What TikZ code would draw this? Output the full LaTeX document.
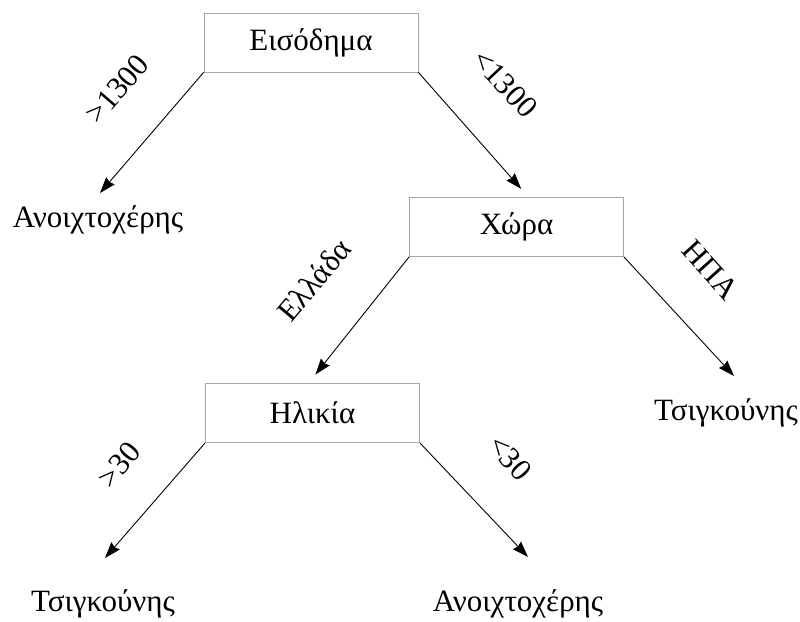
\documentclass[tikz,border=0pt]{standalone}
\usepackage{fontspec}
\setmainfont{Liberation Serif}
\usetikzlibrary{arrows.meta}
\tikzset{
  attr/.style={draw=black!35,line width=0.7pt,minimum width=214pt,minimum height=59pt,inner sep=0pt,font=\fontsize{31}{36}\selectfont},
  leaf/.style={inner sep=0pt,anchor=base,font=\fontsize{31}{36}\selectfont},
  cond/.style={inner sep=0pt,font=\fontsize{31}{36}\selectfont},
  branch/.style={->,line width=0.9pt}
}
\begin{document}
\begin{tikzpicture}[x=1pt,y=-1pt,>={Stealth[length=16pt,width=11pt,inset=1.5pt]}]
 \useasboundingbox (0,0) rectangle (800,621);
 % attribute boxes
 \node[attr] (inc) at (311,42.5) {Εισόδημα};
 \node[attr] (cty) at (516.5,227) {Χώρα};
 \node[attr] (age) at (312.5,413) {Ηλικία};
 % leaves
 \node[leaf] (l1) at (98,227) {Ανοιχτοχέρης};
 \node[leaf] (l2) at (726,420) {Τσιγκούνης};
 \node[leaf] (l3) at (103,611) {Τσιγκούνης};
 \node[leaf] (l4) at (518,611) {Ανοιχτοχέρης};
 \coordinate (t1) at (100,193);
 \coordinate (t2) at (734,376);
 \coordinate (t3) at (105,558);
 \coordinate (t4) at (528,557);
 % branches
 \draw[branch] (inc.south west) -- (t1);
 \draw[branch,shorten >=11pt] (inc.south east) -- ([xshift=12pt]cty.north);
 \draw[branch,shorten >=11pt] (cty.south west) -- ([xshift=-4pt]age.north);
 \draw[branch] (cty.south east) -- (t2);
 \draw[branch] (age.south west) -- (t3);
 \draw[branch] (age.south east) -- (t4);
 % conditions
 \node[cond,rotate=49] (c1) at (117,89) {>1300};
 \node[cond,rotate=-47] (c2) at (505,84) {<1300};
 \node[cond,rotate=50] (c3) at (314,280) {Ελλάδα};
 \node[cond,rotate=-48] (c4) at (711,270) {ΗΠΑ};
 \node[cond,rotate=50] (c5) at (119,465) {>30};
 \node[cond,rotate=-48] (c6) at (510,458) {<30};
\end{tikzpicture}
\end{document}
